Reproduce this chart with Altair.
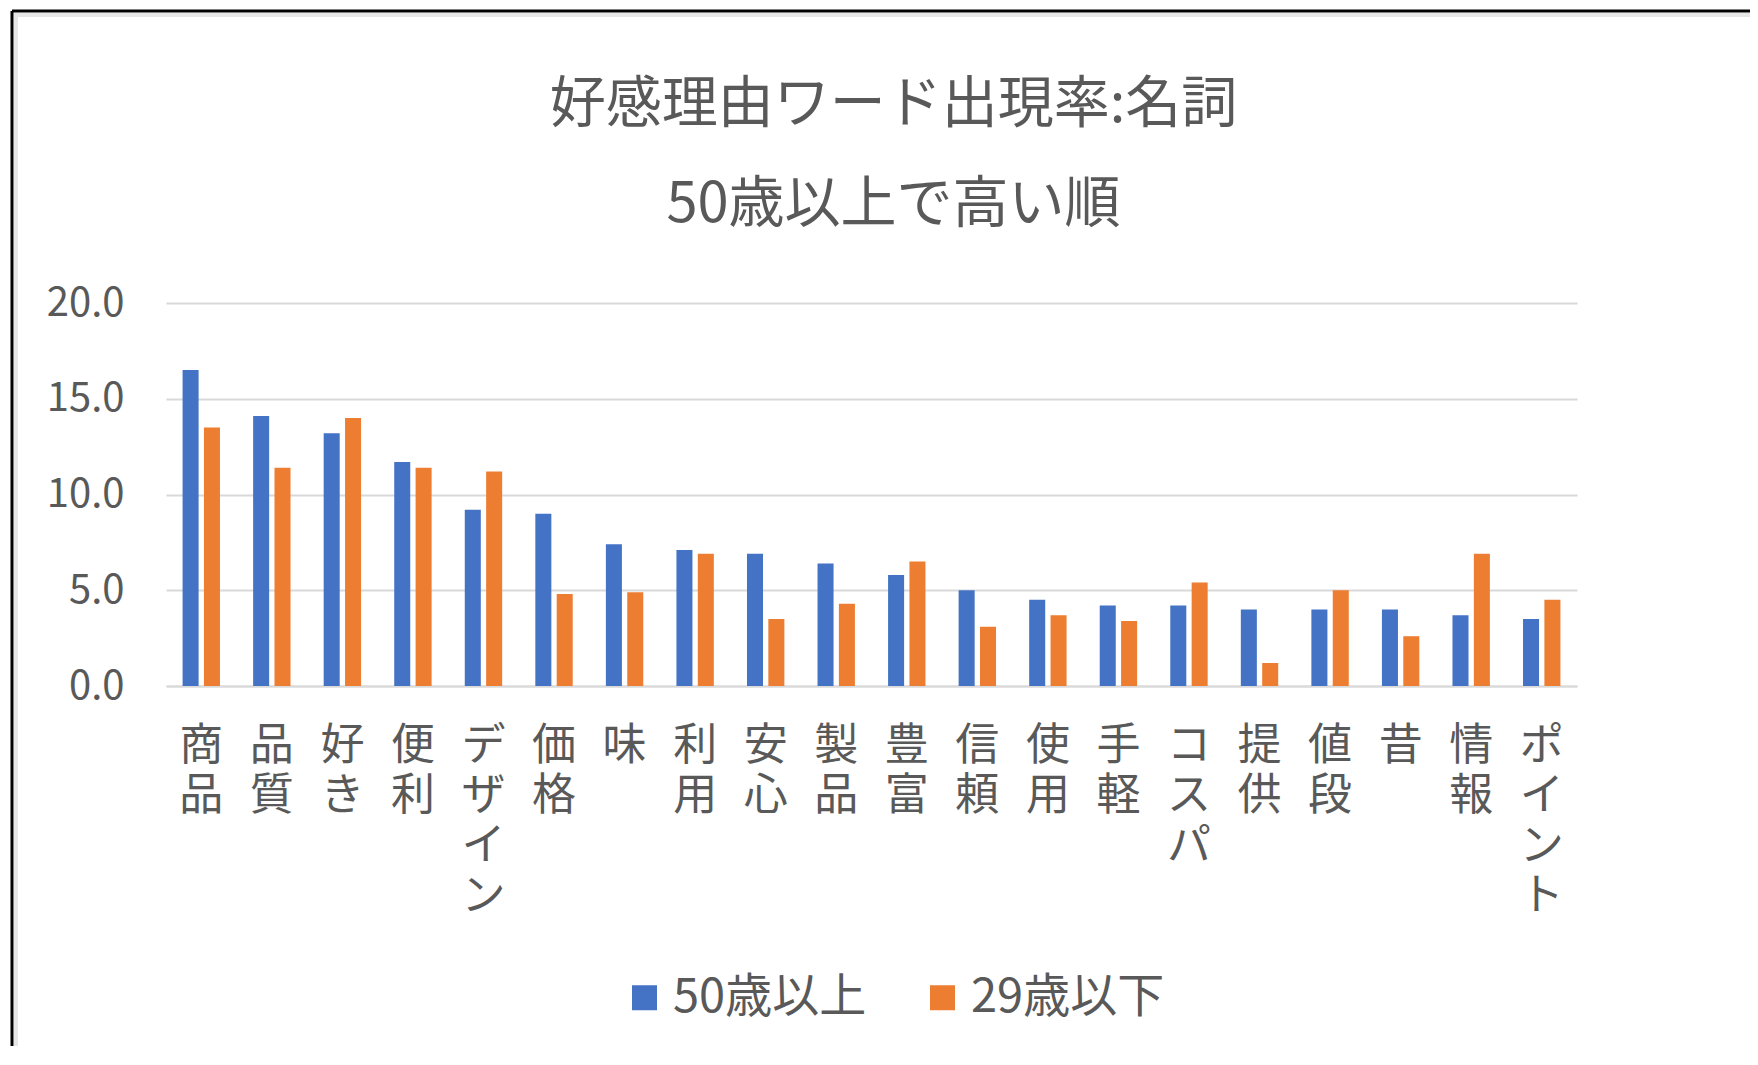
import altair as alt
import pandas as pd

categories = ["商品", "品質", "好き", "便利", "デザイン", "価格", "味", "利用", "安心", "製品",
              "豊富", "信頼", "使用", "手軽", "コスパ", "提供", "値段", "昔", "情報", "ポイント"]
over50 = [16.5, 14.1, 13.2, 11.7, 9.2, 9.0, 7.4, 7.1, 6.9, 6.4,
          5.8, 5.0, 4.5, 4.2, 4.2, 4.0, 4.0, 4.0, 3.7, 3.5]
under29 = [13.5, 11.4, 14.0, 11.4, 11.2, 4.8, 4.9, 6.9, 3.5, 4.3,
           6.5, 3.1, 3.7, 3.4, 5.4, 1.2, 5.0, 2.6, 6.9, 4.5]
series = ["50歳以上", "29歳以下"]
colors = ["#4472C4", "#ED7D31"]
y_ticks = [0, 5, 10, 15, 20]

rows = []
for c, a, b in zip(categories, over50, under29):
    rows.append({"word": c, "group": series[0], "value": a})
    rows.append({"word": c, "group": series[1], "value": b})
df = pd.DataFrame(rows)

FONT = "Noto Sans CJK JP"
GRAY = "#595959"

bars = alt.Chart(df).mark_bar().encode(
    x=alt.X("word:N", sort=categories, title=None,
            scale=alt.Scale(paddingInner=0.47, paddingOuter=0.235),
            axis=alt.Axis(labelAngle=0, labelExpr="split(datum.label, '')",
                          labelFontSize=44, labelLineHeight=50, labelBaseline="top",
                          labelPadding=38, labelColor=GRAY, labelFont=FONT,
                          ticks=False, domain=True, domainColor="#D9D9D9", domainWidth=2,
                          grid=False)),
    xOffset=alt.XOffset("group:N", sort=series, scale=alt.Scale(paddingInner=0.25)),
    y=alt.Y("value:Q", title=None,
            scale=alt.Scale(domain=[0, 20], nice=False),
            axis=alt.Axis(values=y_ticks, format=".1f", labelFontSize=40,
                          labelColor=GRAY, labelFont=FONT, labelPadding=42,
                          ticks=False, domain=False, grid=True,
                          gridColor="#D9D9D9", gridWidth=2)),
    color=alt.Color("group:N", sort=series,
                    scale=alt.Scale(domain=series, range=colors),
                    legend=alt.Legend(title=None, orient="none", direction="horizontal",
                                      legendX=455, legendY=671,
                                      symbolType="square", symbolSize=625,
                                      symbolStrokeWidth=0, labelLimit=400,
                                      labelFontSize=47, labelColor=GRAY, labelFont=FONT,
                                      labelOffset=5, columnPadding=52)),
)

frame = pd.DataFrame({"k": [0]})
frame_top = alt.Chart(frame).mark_rule(color="black", strokeWidth=3).encode(
    x=alt.value(-154), x2=alt.value(1600), y=alt.value(-292))
frame_left = alt.Chart(frame).mark_rule(color="black", strokeWidth=3).encode(
    x=alt.value(-154), y=alt.value(-292), y2=alt.value(800))
shade_top = alt.Chart(frame).mark_rule(color="#E6E6E6", strokeWidth=4).encode(
    x=alt.value(-152), x2=alt.value(1600), y=alt.value(-288))
shade_left = alt.Chart(frame).mark_rule(color="#E6E6E6", strokeWidth=4).encode(
    x=alt.value(-150), y=alt.value(-290), y2=alt.value(800))

chart = alt.layer(shade_top, shade_left, frame_top, frame_left, bars).properties(
    width=1411, height=383,
    padding={"left": 158, "top": 295, "right": 173, "bottom": 360},
    autosize=alt.AutoSizeParams(type="none"),
    background="white",
    title=alt.TitleParams(
        text=["好感理由ワード出現率:名詞", "50歳以上で高い順"],
        font=FONT, fontSize=56, fontWeight="normal", color=GRAY,
        anchor="middle", lineHeight=100, offset=-280, dx=22, baseline="bottom"),
).configure_view(strokeWidth=0, stroke="transparent")

chart.save("out.html", embed_options={"renderer": "svg", "actions": False})
